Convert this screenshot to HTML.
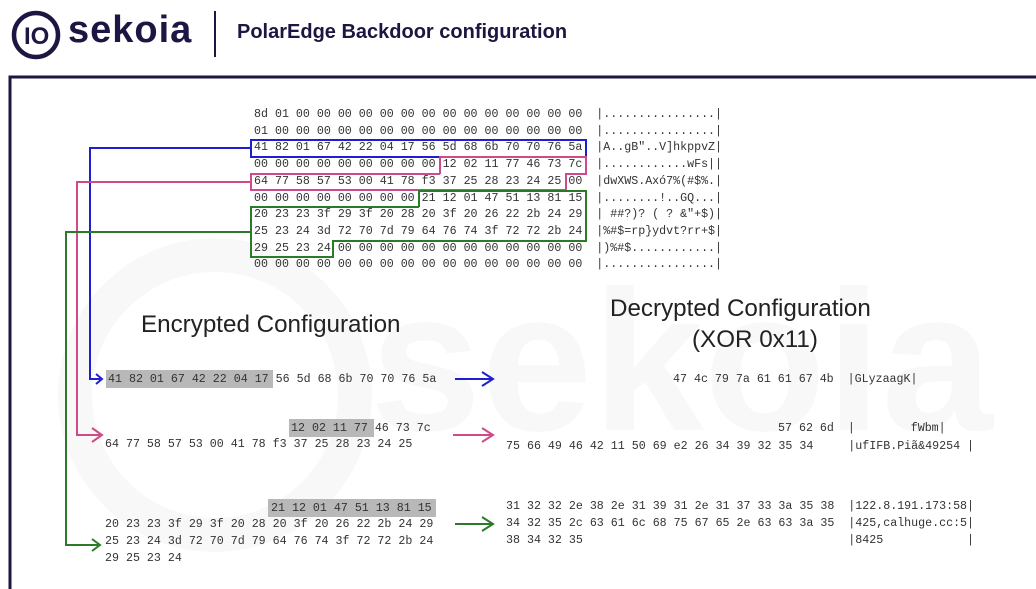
<!DOCTYPE html>
<html><head><meta charset="utf-8"><style>
body{margin:0;width:1036px;height:589px;background:#fff;position:relative;overflow:hidden;font-family:"Liberation Sans",sans-serif}
.m{position:absolute;font-family:"Liberation Mono",monospace;font-size:11.65px;color:#333;white-space:pre;line-height:16.7px}
.b{position:absolute;font-family:"Liberation Mono",monospace;font-size:11.65px;color:#333;white-space:pre;line-height:17px}
.hl{position:absolute;background:#b8b8b8}
.t{position:absolute;font-size:24.2px;color:#222;white-space:nowrap}
</style></head><body>
<svg width="1036" height="589" style="position:absolute;left:0;top:0">
<circle cx="215" cy="395" r="140" fill="none" stroke="#f8f8f8" stroke-width="34"/>
<text x="370" y="430" font-family="Liberation Sans" font-weight="bold" font-size="200" fill="#f8f8f8">sekoia</text>
<circle cx="36" cy="35" r="22" fill="none" stroke="#1b1642" stroke-width="4.5"/>
<text x="24" y="44" font-family="Liberation Sans" font-weight="bold" font-size="24" fill="#1b1642">IO</text>
<line x1="215" y1="11" x2="215" y2="57" stroke="#1b1642" stroke-width="2"/>
<polyline points="10,589 10,77 1036,77" fill="none" stroke="#1b1642" stroke-width="3"/>
<rect x="251" y="140" width="335" height="17" fill="none" stroke="#1f1fd0" stroke-width="2"/>
<polyline points="440,174 440,157 586,157 586,174 566,174 566,190 251,190 251,174 440,174" fill="none" stroke="#d04a8a" stroke-width="2"/>
<polyline points="419,207 419,191 586,191 586,241 333,241 333,257 251,257 251,207 419,207" fill="none" stroke="#2a7a2a" stroke-width="2"/>
<polyline points="251,148 90,148 90,379 100,379" fill="none" stroke="#1f1fd0" stroke-width="2"/>
<path d="M96,374 L102,379 L96,384" fill="none" stroke="#1f1fd0" stroke-width="2"/>
<polyline points="251,182 77,182 77,435 100,435" fill="none" stroke="#d04a8a" stroke-width="2"/>
<path d="M92,428 L102,435 L92,442" fill="none" stroke="#d04a8a" stroke-width="2"/>
<polyline points="251,232 66,232 66,545 98,545" fill="none" stroke="#2a7a2a" stroke-width="2"/>
<path d="M92,539 L100,545 L92,551" fill="none" stroke="#2a7a2a" stroke-width="2"/>
<line x1="455" y1="379" x2="492" y2="379" stroke="#1f1fd0" stroke-width="2"/>
<path d="M482,372 L493,379 L482,386" fill="none" stroke="#1f1fd0" stroke-width="2"/>
<line x1="453" y1="435" x2="492" y2="435" stroke="#d04a8a" stroke-width="2"/>
<path d="M482,428 L493,435 L482,442" fill="none" stroke="#d04a8a" stroke-width="2"/>
<line x1="455" y1="524" x2="492" y2="524" stroke="#2a7a2a" stroke-width="2"/>
<path d="M482,517 L493,524 L482,531" fill="none" stroke="#2a7a2a" stroke-width="2"/>
</svg>
<div style="position:absolute;left:68px;top:9px;font-size:38px;font-weight:bold;color:#1b1642;letter-spacing:1px">sekoia</div>
<div style="position:absolute;left:237px;top:21px;font-size:20px;font-weight:bold;color:#1b1642">PolarEdge Backdoor configuration</div>

<div class="m" style="left:254px;top:107px">8d 01 00 00 00 00 00 00 00 00 00 00 00 00 00 00  |................|
01 00 00 00 00 00 00 00 00 00 00 00 00 00 00 00  |................|
41 82 01 67 42 22 04 17 56 5d 68 6b 70 70 76 5a  |A..gB"..V]hkppvZ|
00 00 00 00 00 00 00 00 00 12 02 11 77 46 73 7c  |............wFs||
64 77 58 57 53 00 41 78 f3 37 25 28 23 24 25 00  |dwXWS.Axó7%(#$%.|
00 00 00 00 00 00 00 00 21 12 01 47 51 13 81 15  |........!..GQ...|
20 23 23 3f 29 3f 20 28 20 3f 20 26 22 2b 24 29  | ##?)? ( ? &"+$)|
25 23 24 3d 72 70 7d 79 64 76 74 3f 72 72 2b 24  |%#$=rp}ydvt?rr+$|
29 25 23 24 00 00 00 00 00 00 00 00 00 00 00 00  |)%#$............|
00 00 00 00 00 00 00 00 00 00 00 00 00 00 00 00  |................|</div>

<div class="t" style="left:141px;top:311px">Encrypted Configuration</div>
<div class="t" style="left:610px;top:295px">Decrypted Configuration</div>
<div class="t" style="left:692px;top:326px">(XOR 0x11)</div>

<div class="hl" style="left:106px;top:370px;width:167px;height:18px"></div>
<div class="b" style="left:108px;top:371px">41 82 01 67 42 22 04 17 56 5d 68 6b 70 70 76 5a</div>
<div class="b" style="left:673px;top:371px">47 4c 79 7a 61 61 67 4b  |GLyzaagK|</div>

<div class="hl" style="left:289px;top:419px;width:85px;height:18px"></div>
<div class="b" style="left:291px;top:420px">12 02 11 77 46 73 7c</div>
<div class="b" style="left:105px;top:436px">64 77 58 57 53 00 41 78 f3 37 25 28 23 24 25</div>
<div class="b" style="left:778px;top:420px">57 62 6d  |        fWbm|</div>
<div class="b" style="left:506px;top:438px">75 66 49 46 42 11 50 69 e2 26 34 39 32 35 34     |ufIFB.Piã&amp;49254 |</div>

<div class="hl" style="left:268px;top:499px;width:168px;height:18px"></div>
<div class="b" style="left:271px;top:500px">21 12 01 47 51 13 81 15</div>
<div class="b" style="left:105px;top:516px">20 23 23 3f 29 3f 20 28 20 3f 20 26 22 2b 24 29
25 23 24 3d 72 70 7d 79 64 76 74 3f 72 72 2b 24
29 25 23 24</div>
<div class="b" style="left:506px;top:498px">31 32 32 2e 38 2e 31 39 31 2e 31 37 33 3a 35 38  |122.8.191.173:58|
34 32 35 2c 63 61 6c 68 75 67 65 2e 63 63 3a 35  |425,calhuge.cc:5|
38 34 32 35                                      |8425            |</div>
</body></html>
